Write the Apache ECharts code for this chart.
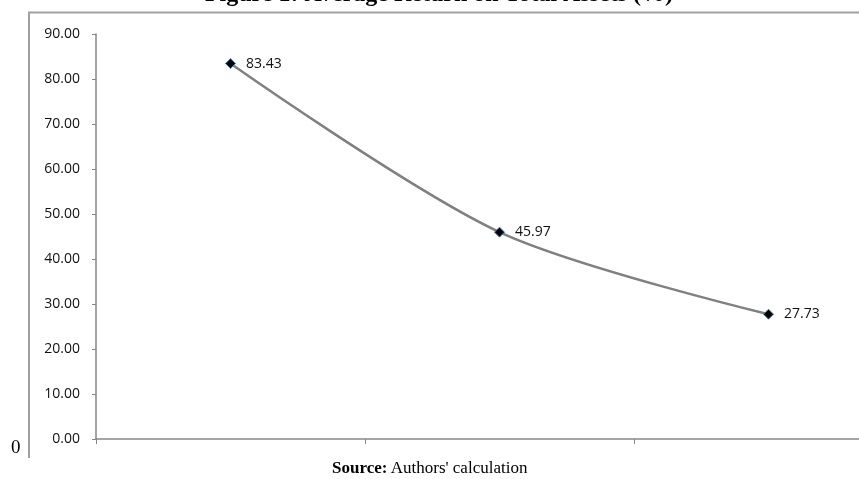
<!DOCTYPE html>
<html><head><meta charset="utf-8">
<script src="https://cdn.jsdelivr.net/npm/echarts@6/dist/echarts.min.js"></script>
<style>html,body{margin:0;padding:0;background:#fff;}#c{width:859px;height:479px;}</style>
</head><body><div id="c"></div>
<script>
var categories = ['Period 1', 'Period 2', 'Period 3'];
var values = [83.43, 45.97, 27.73];
var yTicks = [0, 10, 20, 30, 40, 50, 60, 70, 80, 90];

var chart = echarts.init(document.getElementById('c'), null, {renderer: 'canvas'});
chart.setOption({
  animation: false,
  backgroundColor: '#fff',
  grid: {left: 96, top: 34, width: 807, height: 405, containLabel: false, outerBoundsMode: 'none'},
  xAxis: {
    type: 'category', data: categories, boundaryGap: true,
    axisLine: {show: true, lineStyle: {color: '#868686', width: 1.5}},
    axisTick: {show: true, length: 5, lineStyle: {color: '#868686', width: 1}},
    axisLabel: {show: false}, splitLine: {show: false}
  },
  yAxis: {
    type: 'value', min: yTicks[0], max: yTicks[yTicks.length - 1], interval: 10,
    axisLine: {show: true, lineStyle: {color: '#868686', width: 1.5}},
    axisTick: {show: true, length: 4, lineStyle: {color: '#868686', width: 1}},
    axisLabel: {color: '#111', fontFamily: 'Open Sans', fontSize: 14, margin: 16,
      formatter: function (v) { return v.toFixed(2); }},
    splitLine: {show: false}
  },
  series: [{
    type: 'line', data: values, smooth: 0.3,
    symbol: 'diamond', symbolSize: 10,
    lineStyle: {color: '#808080', width: 2.5},
    itemStyle: {color: '#000', borderColor: '#4a7ebb', borderWidth: 1},
    label: {show: true, position: 'right', distance: 10, color: '#111',
      fontFamily: 'Open Sans', fontSize: 14,
      formatter: function (p) { return p.value.toFixed(2); }}
  }],
  graphic: [
    {type: 'polyline', shape: {points: [[29, 458], [29, 12.5], [859, 12.5]]},
      style: {stroke: '#a0a0a0', lineWidth: 2, fill: null}},
    {type: 'text', x: 439, y: 7,
      style: {text: 'Figure 1: Average Return on Total Assets (%)', font: 'bold 24px "Liberation Serif"', fill: '#000', align: 'center', verticalAlign: 'bottom'}},
    {type: 'text', left: 11, top: 439,
      style: {text: '0', font: '19px "Liberation Serif"', fill: '#000'}},
    {type: 'text', left: 332, top: 460,
      style: {rich: {b: {font: 'bold 17px "Liberation Serif"', fill: '#000'}, n: {font: '17px "Liberation Serif"', fill: '#000'}},
        text: '{b|Source:} {n|Authors\' calculation}'}}
  ]
});
</script></body></html>
